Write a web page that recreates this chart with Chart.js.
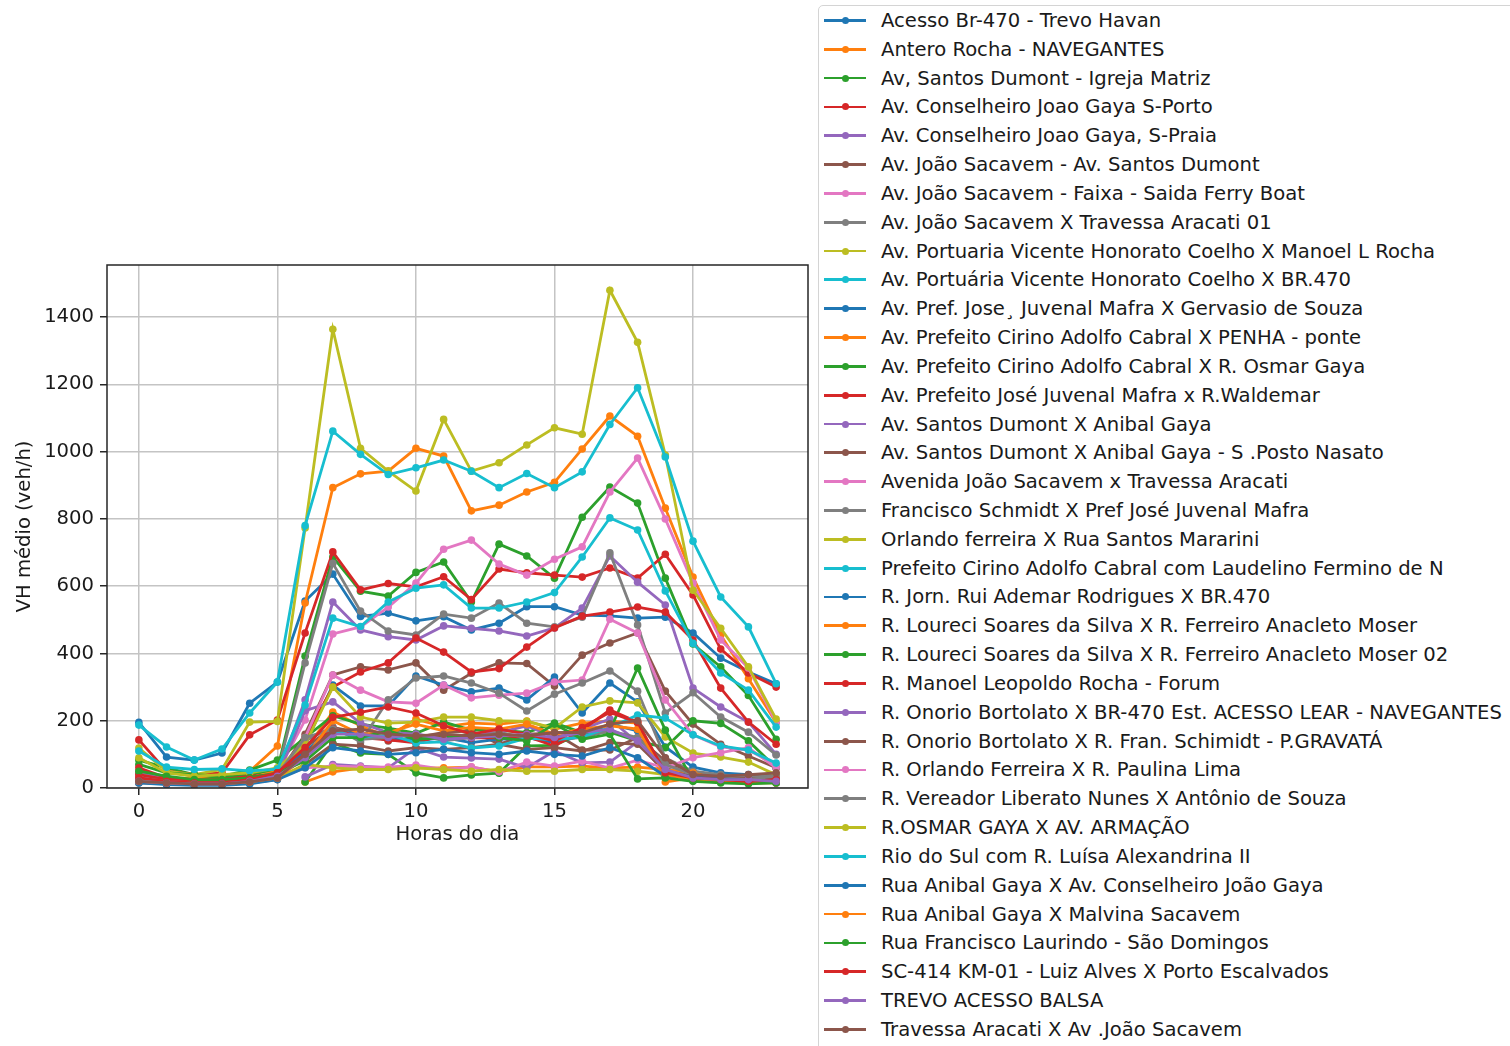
<!DOCTYPE html>
<html>
<head>
<meta charset="utf-8">
<title>VH médio por hora</title>
<script src="https://cdn.jsdelivr.net/npm/chart.js@4.4.0/dist/chart.umd.min.js"></script>
<style>
    html, body { margin: 0; padding: 0; background: #fff; overflow: hidden; }
    #wrap { position: relative; width: 1510px; height: 1046px; }
    #legend {
        position: absolute; left: 818px; top: 5px; width: 760px; height: 1100px;
        border: 1px solid #d4d4d4; border-radius: 5px; background: #fff;
        font-family: 'DejaVu Sans', sans-serif; font-size: 19.6px; color: #1a1a1a;
    }
    .item { height: 28.83px; display: flex; align-items: center; white-space: nowrap; }
    .swatch { position: relative; width: 42px; height: 2.8px; margin-left: 5px; margin-right: 15px; }
    .swatch i { position: absolute; left: 17.5px; top: -2.1px; width: 7px; height: 7px; border-radius: 50%; }
</style>
</head>
<body>
<div id="wrap">
    <canvas id="chart"></canvas>
    <div id="legend"></div>
</div>
<script>
// Horas do dia (eixo x) e ticks
const hours = [0, 1, 2, 3, 4, 5, 6, 7, 8, 9, 10, 11, 12, 13, 14, 15, 16, 17, 18, 19, 20, 21, 22, 23];
const xTicks = [0, 5, 10, 15, 20];
const yTicks = [0, 200, 400, 600, 800, 1000, 1200, 1400];

const seriesNames = [
    'Acesso Br-470 - Trevo Havan',
    'Antero Rocha - NAVEGANTES',
    'Av, Santos Dumont - Igreja Matriz',
    'Av. Conselheiro Joao Gaya S-Porto',
    'Av. Conselheiro Joao Gaya, S-Praia',
    'Av. João Sacavem - Av. Santos Dumont',
    'Av. João Sacavem - Faixa - Saida Ferry Boat',
    'Av. João Sacavem X Travessa Aracati 01',
    'Av. Portuaria Vicente Honorato Coelho X Manoel L Rocha',
    'Av. Portuária Vicente Honorato Coelho X BR.470',
    'Av. Pref. Jose¸ Juvenal Mafra X Gervasio de Souza',
    'Av. Prefeito Cirino Adolfo Cabral X PENHA - ponte',
    'Av. Prefeito Cirino Adolfo Cabral X R. Osmar Gaya',
    'Av. Prefeito José Juvenal Mafra x R.Waldemar',
    'Av. Santos Dumont X Anibal Gaya',
    'Av. Santos Dumont X Anibal Gaya - S .Posto Nasato',
    'Avenida João Sacavem x Travessa Aracati',
    'Francisco Schmidt X Pref José Juvenal Mafra',
    'Orlando ferreira X Rua Santos Mararini',
    'Prefeito Cirino Adolfo Cabral com Laudelino Fermino de N',
    'R. Jorn. Rui Ademar Rodrigues X BR.470',
    'R. Loureci Soares da Silva X R. Ferreiro Anacleto Moser',
    'R. Loureci Soares da Silva X R. Ferreiro Anacleto Moser 02',
    'R. Manoel Leopoldo Rocha - Forum',
    'R. Onorio Bortolato X BR-470 Est. ACESSO LEAR - NAVEGANTES',
    'R. Onorio Bortolato X R. Fran. Schimidt - P.GRAVATÁ',
    'R. Orlando Ferreira X R. Paulina Lima',
    'R. Vereador Liberato Nunes X Antônio de Souza',
    'R.OSMAR GAYA X AV. ARMAÇÃO',
    'Rio do Sul com R. Luísa Alexandrina II',
    'Rua Anibal Gaya X Av. Conselheiro João Gaya',
    'Rua Anibal Gaya X Malvina Sacavem',
    'Rua Francisco Laurindo - São Domingos',
    'SC-414 KM-01 - Luiz Alves X Porto Escalvados',
    'TREVO ACESSO BALSA',
    'Travessa Aracati X Av .João Sacavem'
];

// VH médio (veh/h) por hora, um array por ponto (null = sem contagem)
const s00 = [195, 92, 83, 104, 252, 315, 556, 636, 510, 520, 497, 509, 470, 490, 539, 539, 514, 512, 505, 508, 461, 386, 345, 310];
const s01 = [40, 30, 28, 30, 50, 125, 550, 893, 934, 942, 1010, 987, 824, 841, 880, 909, 1008, 1106, 1046, 832, 627, 455, 325, 195];
const s02 = [83, 60, 40, 30, 40, 55, 392, 687, 585, 571, 641, 672, 553, 725, 690, 624, 805, 895, 847, 624, 428, 360, 275, 145];
const s03 = [143, 50, 40, 45, 158, 202, 461, 702, 589, 608, 598, 628, 560, 651, 640, 633, 627, 654, 624, 695, 574, 413, 342, 300];
const s04 = [50, 25, 15, 15, 30, 40, 262, 553, 470, 450, 440, 482, 475, 467, 452, 476, 535, 690, 612, 544, 297, 241, 196, 100];
const s05 = [20, 15, 12, 12, 20, 35, 160, 336, 360, 351, 372, 291, 341, 372, 370, 303, 395, 431, 461, 288, 190, 130, 95, 60];
const s06 = [40, 20, 15, 15, 25, 45, 202, 458, 479, 538, 609, 710, 737, 666, 633, 680, 717, 880, 981, 800, 609, 440, 357, 195];
const s07 = [30, 20, 15, 15, 25, 45, 372, 668, 526, 467, 455, 517, 505, 550, 490, 479, 508, 699, 485, 223, 283, 211, 166, 98];
const s08 = [119, 50, 40, 55, 196, 198, 773, 1364, 1010, 942, 883, 1096, 942, 967, 1020, 1071, 1052, 1480, 1325, 990, 588, 475, 360, 205];
const s09 = [187, 122, 83, 116, 223, 315, 780, 1061, 992, 932, 952, 975, 942, 893, 935, 893, 940, 1081, 1190, 984, 734, 568, 479, 310];
const s10 = [30, 20, 15, 15, 25, 40, 130, 306, 244, 244, 333, 306, 286, 297, 262, 330, 223, 312, 256, 122, 62, 45, 40, 35];
const s11 = [35, 25, 20, 20, 30, 50, 113, 226, 185, 152, 205, 182, 193, 190, 199, 175, 193, 199, 193, 18, 30, 20, 15, 20];
const s12 = [70, 45, 40, 35, 53, 83, 150, 215, 190, 178, 163, 196, 172, 172, 165, 193, 165, 166, 140, 120, 200, 192, 140, 60];
const s13 = [60, 30, 25, 25, 35, 40, 150, 300, 345, 372, 446, 404, 345, 355, 419, 476, 511, 523, 538, 523, 440, 297, 196, 130];
const s14 = [40, 20, 15, 15, 25, 35, 230, 256, 193, 165, 160, 150, 160, 165, 185, 150, 175, 205, 135, 70, 40, 35, 30, 25];
const s15 = [25, 18, 15, 15, 22, 40, 120, 180, 165, 140, 150, 165, 170, 130, 160, 163, 113, 113, 150, 80, 45, 30, 35, 40];
const s16 = [35, 20, 15, 15, 22, 35, 150, 336, 291, 256, 252, 306, 268, 276, 282, 315, 321, 502, 461, 262, 158, 122, 113, 68];
const s17 = [25, 18, 15, 15, 22, 35, 140, 182, 137, 262, 327, 333, 312, 282, 229, 279, 312, 348, 288, 89, 50, 40, 30, 40];
const s18 = [90, 45, 35, 40, 45, 60, 130, 300, 211, 193, 196, 211, 211, 200, 198, 178, 241, 259, 253, 152, 104, 92, 77, 39];
const s19 = [110, 62, 55, 57, 51, 56, 247, 505, 480, 553, 594, 604, 535, 535, 553, 581, 687, 803, 767, 586, 430, 342, 291, 181];
const s20 = [20, 12, 10, 10, 18, 40, 110, 170, 160, 150, 140, 150, 135, 145, 150, 135, 155, 190, 170, 60, 30, 25, 20, 15];
const s21 = [null, null, null, null, null, null, 18, 48, 59, 59, 59, 60, 62, 48, 63, 63, 65, 60, 62, 55, 45, 24, 18, 24];
const s22 = [null, null, null, null, null, null, 18, 134, 104, 100, 45, 30, 39, 44, 125, 127, 164, 171, 357, 172, 21, 20, 15, 20];
const s23 = [40, 25, 20, 20, 30, 40, 100, 177, 150, 143, 134, 158, 149, 149, 153, 125, 172, 232, 196, 39, 30, 25, 20, 25];
const s24 = [null, null, null, null, null, null, 33, 70, 65, 60, 119, 92, 89, 86, 60, 110, 75, 77, 137, 45, 30, 25, 20, 15];
const s25 = [15, 12, 10, 10, 15, 25, 70, 130, 125, 110, 120, 115, 120, 130, 115, 120, 110, 135, 130, 50, 35, 30, 28, 25];
const s26 = [25, 15, 12, 12, 18, 30, 60, 65, 63, 62, 68, 55, 63, 48, 77, 65, 80, 59, 83, 60, 90, 105, 120, 60];
const s27 = [30, 20, 15, 15, 20, 40, 150, 175, 145, 150, 160, 140, 150, 165, 150, 145, 150, 170, 150, 70, 40, 30, 25, 35];
const s28 = [20, 15, 12, 12, 18, 30, 70, 60, 55, 55, 60, 55, 50, 55, 50, 50, 55, 55, 50, 40, 30, 25, 20, 18];
const s29 = [25, 15, 12, 12, 18, 35, 90, 170, 150, 160, 134, 137, 119, 125, 148, 143, 152, 180, 217, 208, 158, 125, 113, 74];
const s30 = [15, 10, 8, 8, 12, 25, 60, 120, 110, 100, 105, 115, 105, 100, 110, 100, 95, 120, 90, 35, 35, 28, 22, 18];
const s31 = [20, 15, 12, 12, 18, 30, 90, 200, 160, 165, 190, 170, 180, 175, 190, 160, 175, 185, 175, 40, 25, 20, 15, 15];
const s32 = [50, 35, 25, 25, 30, 45, 80, 150, 150, 170, 145, 150, 160, 150, 140, 190, 145, 160, 27, 30, 20, 15, 12, 15];
const s33 = [30, 20, 15, 15, 25, 45, 120, 210, 225, 241, 223, 185, 160, 175, 160, 140, 180, 225, 195, 45, 30, 25, 20, 25];
const s34 = [20, 15, 12, 12, 20, 35, 90, 160, 160, 150, 160, 145, 150, 155, 160, 150, 165, 175, 140, 55, 30, 25, 25, 20];
const s35 = [20, 15, 12, 12, 18, 30, 100, 170, 175, 160, 155, 160, 155, 160, 155, 165, 165, 190, 200, 90, 40, 35, 40, 45];

const seriesValues = [s00, s01, s02, s03, s04, s05, s06, s07, s08, s09, s10, s11, s12, s13, s14, s15, s16, s17,
    s18, s19, s20, s21, s22, s23, s24, s25, s26, s27, s28, s29, s30, s31, s32, s33, s34, s35];

// Ciclo de cores tab10 (matplotlib)
const palette = ['#1f77b4', '#ff7f0e', '#2ca02c', '#d62728', '#9467bd',
    '#8c564b', '#e377c2', '#7f7f7f', '#bcbd22', '#17becf'];

const FONT = 'DejaVu Sans';
const FONT_SIZE = 19.6;
const TXT = '#1a1a1a';

// Moldura do eixo (4 lados, por cima das linhas)
const framePlugin = {
    id: 'frame',
    afterDatasetsDraw(chart) {
        const { ctx, chartArea: a } = chart;
        ctx.save();
        ctx.strokeStyle = '#262626';
        ctx.lineWidth = 1.5;
        ctx.strokeRect(a.left, a.top, a.right - a.left, a.bottom - a.top);
        ctx.restore();
    }
};

const datasets = seriesNames.map((name, i) => {
    const color = palette[i % palette.length];
    return {
        label: name,
        data: hours.map((h, j) => ({ x: h, y: seriesValues[i][j] })),
        borderColor: color,
        backgroundColor: color,
        pointBackgroundColor: color,
        pointBorderWidth: 0,
        pointRadius: 3.8,
        borderWidth: 2.8,
        tension: 0,
        fill: false,
        order: seriesNames.length - i // último por cima, como no matplotlib
    };
});

const chart = new Chart(document.getElementById('chart'), {
    type: 'line',
    data: { datasets },
    options: {
        responsive: true,
        maintainAspectRatio: false,
        animation: false,
        events: [],
        layout: { padding: { left: 9, top: 265, right: 702, bottom: 195 } },
        plugins: { legend: { display: false }, tooltip: { enabled: false } },
        scales: {
            x: {
                type: 'linear',
                min: -1.15,
                max: 24.15,
                afterBuildTicks: s => { s.ticks = xTicks.map(v => ({ value: v })); },
                afterFit: s => { s.height = 63; },
                border: { display: false },
                grid: { color: '#c4c4c4', lineWidth: 1.5, tickColor: '#262626', tickLength: 7, tickWidth: 1.5 },
                ticks: { padding: 5, color: TXT, font: { family: FONT, size: FONT_SIZE }, maxRotation: 0,
                    callback: v => String(v) },
                title: { display: true, text: 'Horas do dia', color: TXT, font: { family: FONT, size: FONT_SIZE } }
            },
            y: {
                min: 0,
                max: 1555,
                afterBuildTicks: s => { s.ticks = yTicks.map(v => ({ value: v })); },
                afterFit: s => { s.width = 98; },
                border: { display: false },
                grid: { color: '#c4c4c4', lineWidth: 1.5, tickColor: '#262626', tickLength: 7, tickWidth: 1.5 },
                ticks: { padding: 6, color: TXT, font: { family: FONT, size: FONT_SIZE }, callback: v => String(v) },
                title: { display: true, text: 'VH médio (veh/h)', color: TXT, font: { family: FONT, size: FONT_SIZE } }
            }
        }
    },
    plugins: [framePlugin]
});

// Legenda em HTML (fora do eixo, à direita)
const legend = document.getElementById('legend');
legend.innerHTML = chart.data.datasets.map(ds => `
    <div class="item">
        <span class="swatch" style="background:${ds.borderColor}"><i style="background:${ds.borderColor}"></i></span>
        <span>${ds.label}</span>
    </div>`).join('');
</script>
</body>
</html>
